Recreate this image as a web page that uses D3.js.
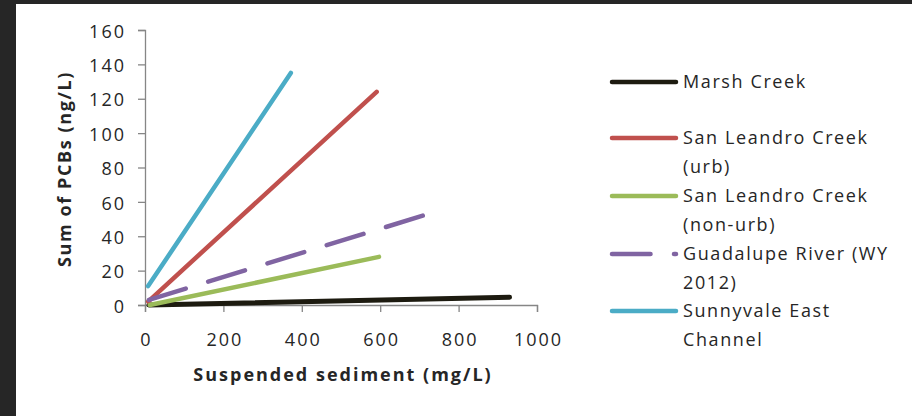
<!DOCTYPE html>
<html><head><meta charset="utf-8">
<script src="https://cdn.jsdelivr.net/npm/d3@7"></script>
<style>
html,body{margin:0;padding:0;background:#262626;}
svg{display:block;}
text{font-family:"Open Sans",sans-serif;fill:#262626;}
</style></head>
<body>
<svg id="chart" width="912" height="416"></svg>
<script>
const seriesNames = ["Marsh Creek","San Leandro Creek (urb)","San Leandro Creek (non-urb)","Guadalupe River (WY 2012)","Sunnyvale East Channel"];
const legendLines = [["Marsh Creek"],["San Leandro Creek","(urb)"],["San Leandro Creek","(non-urb)"],["Guadalupe River (WY","2012)"],["Sunnyvale East","Channel"]];
const seriesColors = ["#1d1b10","#c0504d","#9bbb59","#8064a2","#4bacc6"];
const seriesDashed = [false,false,false,true,false];
const marshX = [10, 930], marshY = [0, 4.5];
const urbX = [8, 591], urbY = [2, 124];
const nonUrbX = [12, 597], nonUrbY = [0, 28];
const guadX = [10, 709], guadY = [3, 52];
const sunnyX = [8, 372], sunnyY = [11, 135];
const xTicks = [0,200,400,600,800,1000];
const yTicks = [0,20,40,60,80,100,120,140,160];
const xTitle = "Suspended sediment (mg/L)";
const yTitle = "Sum of PCBs (ng/L)";

const allX = [marshX, urbX, nonUrbX, guadX, sunnyX];
const allY = [marshY, urbY, nonUrbY, guadY, sunnyY];

const svg = d3.select("#chart");
svg.append("rect").attr("x",16).attr("y",4).attr("width",896).attr("height",412).attr("fill","#fff");

const x = d3.scaleLinear().domain([0,1000]).range([145,537]);
const y = d3.scaleLinear().domain([0,160]).range([305,30]);
const axisColor = "#868686";
const fs = 18;
const ls = 1.6;

const xAxis = svg.append("g").attr("transform","translate(0,305)")
  .call(d3.axisBottom(x).tickValues(xTicks).tickSize(7).tickPadding(12).tickFormat(d3.format("d")));
const yAxis = svg.append("g").attr("transform","translate(145,0)")
  .call(d3.axisLeft(y).tickValues(yTicks).tickSize(7).tickPadding(12).tickFormat(d3.format("d")));
[xAxis,yAxis].forEach(a=>{
  a.select(".domain").attr("stroke",axisColor).attr("stroke-width",1.3);
  a.selectAll(".tick line").attr("stroke",axisColor).attr("stroke-width",1.3);
  a.selectAll(".tick text").attr("font-family","Open Sans").attr("font-size",fs)
    .attr("letter-spacing",2).attr("fill","#262626");
});
xAxis.selectAll(".tick text").attr("y",41).attr("dy",null).attr("dx",1);
yAxis.selectAll(".tick text").attr("dy","0.4em");

const line = d3.line().x(d=>x(d[0])).y(d=>y(d[1]));
seriesNames.forEach((n,i)=>{
  const pts = allX[i].map((v,j)=>[v, allY[i][j]]);
  svg.append("path").datum(pts).attr("d",line)
    .attr("fill","none").attr("stroke",seriesColors[i]).attr("stroke-width",i===0?5:4.5)
    .attr("stroke-linecap","round")
    .attr("stroke-dasharray", seriesDashed[i] ? "38.5,23.5" : null);
});

svg.append("text").attr("x",343).attr("y",381).attr("text-anchor","middle")
  .attr("font-weight","bold").attr("font-size",fs).attr("letter-spacing",2.0).text(xTitle);
svg.append("text").attr("transform","translate(71,169) rotate(-90)").attr("text-anchor","middle")
  .attr("font-weight","bold").attr("font-size",fs).attr("letter-spacing",ls).text(yTitle);

const legendY = [82,138,196,254,311];
const lg = svg.append("g");
legendLines.forEach((lines,i)=>{
  lg.append("line").attr("x1",612).attr("x2",676).attr("y1",legendY[i]).attr("y2",legendY[i])
    .attr("stroke",seriesColors[i]).attr("stroke-width",4.5).attr("stroke-linecap","round")
    .attr("stroke-dasharray", seriesDashed[i] ? "38.5,23.5" : null);
  lines.forEach((t,k)=>{
    lg.append("text").attr("x",683).attr("y",legendY[i]+k*29).attr("dy","0.36em")
      .attr("font-size",fs).attr("letter-spacing",ls).text(t);
  });
});
</script>
</body></html>
